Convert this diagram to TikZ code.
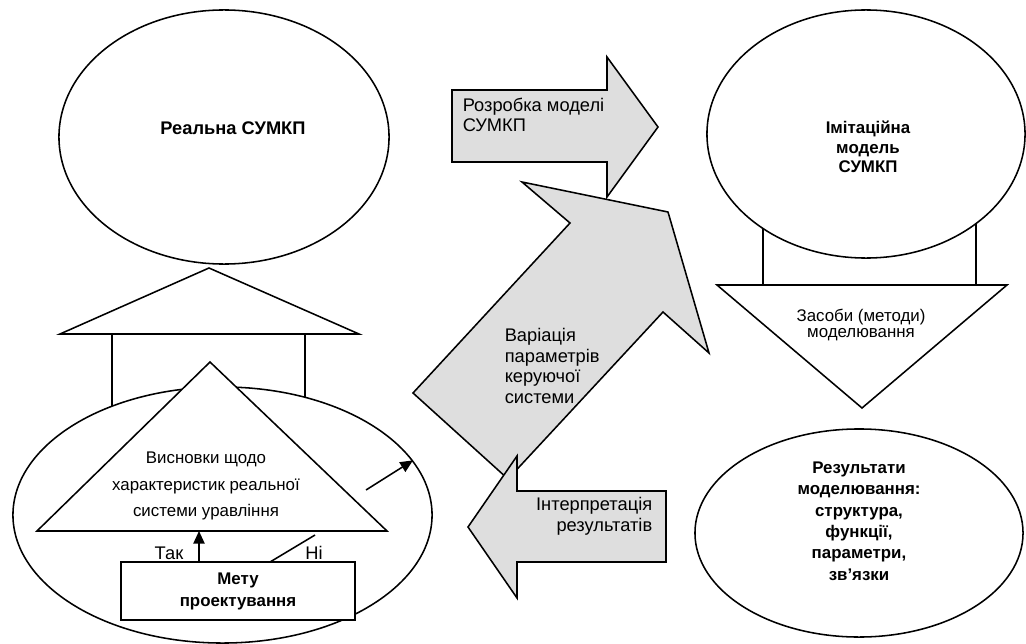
\documentclass[tikz,border=0pt]{standalone}
\usepackage{fontspec}
\setmainfont{Liberation Sans}
\usetikzlibrary{arrows.meta}
\usetikzlibrary{shapes.geometric}
\usepackage{xcolor}
\definecolor{arrowgrey}{gray}{0.87}

\begin{document}
\begin{tikzpicture}[x=0.025cm, y=-0.025cm, line width=1.1pt,
        txt/.style={font=\fontsize{12}{#1}\selectfont, inner sep=0pt},
        txt/.default=14,
        bigtxt/.style={font=\fontsize{13}{#1}\selectfont, inner sep=0pt},
        bigtxt/.default=14,
        heavy/.style={font=\fontsize{12}{#1}\selectfont\bfseries, inner sep=0pt},
        heavy/.default=14,
        oval/.style={draw, ellipse, fill=white, inner sep=0pt},
        blockarrow/.style={draw, fill=arrowgrey, line join=miter},
        >={Triangle[length=9pt,width=8pt]}]

        \useasboundingbox (0,0) rectangle (1026,644);

        % left side: real system
        \coordinate (RA) at (209,268);
        \coordinate (RB) at (60,334);
        \coordinate (RC) at (359,334);
        \coordinate (L1) at (112,334);
        \coordinate (L2) at (305,334);

        \draw (L1) -- (112,440);
        \draw (L2) -- (305,440);
        \draw (RB) -- (RA) -- (RC) -- cycle;

        \node[oval, minimum width=8.25cm, minimum height=6.35cm] (real) at (224,137) {};
        \node[heavy, font=\fontsize{13}{14}\selectfont\bfseries] (realtxt) at (233,128) {Реальна СУМКП};

        \node[oval, minimum width=10.475cm, minimum height=6.4cm] (lowell) at (222.5,515) {};

        \coordinate (TA) at (210,362);
        \coordinate (TB) at (37,531);
        \coordinate (TC) at (387,531);
        \draw[fill=white] (TA) -- (TB) -- (TC) -- cycle;
        \node[txt=18.8, align=center] (concl) at (206,486) {Висновки щодо\\характеристик реальної\\системи уравління};

        \node[heavy=15.6, align=center, draw, fill=white, minimum width=5.85cm, minimum height=1.45cm] (goal) at (238,591) {Мету\\проектування};

        \coordinate (yesend) at (199,531);
        \coordinate (noend) at (315,535);
        \draw[->] (yesend |- goal.north) -- (yesend);
        \draw (270,562) -- (noend);
        \node[bigtxt] (yes) at (169,553) {Так};
        \node[bigtxt] (no) at (314,553) {Ні};

        \coordinate (outstart) at (366,490);
        \draw[->] (outstart) -- (lowell.16);

        % middle: block arrows
        \draw[blockarrow] (452,90) -- (607,90) -- (607,57) -- (658,127) -- (607,197) -- (607,162) -- (452,162) -- cycle;
        \node[bigtxt=14.2, align=left, anchor=west] (develop) at (462,115) {Розробка моделі\\СУМКП};

        \draw[blockarrow] (413,393) -- (570,223) -- (522,182) -- (668,212) -- (709,353) -- (663,312) -- (508,479) -- cycle;
        \node[bigtxt=14.7, align=left, anchor=west] (vary) at (504,366) {Варіація\\параметрів\\керуючої\\системи};

        \draw[blockarrow] (666,491) -- (517,491) -- (517,456) -- (468,527) -- (517,598) -- (517,562) -- (666,562) -- cycle;
        \node[bigtxt=14.9, align=right, anchor=east] (interp) at (653,516) {Інтерпретація\\результатів};

        % right side: simulation model
        \coordinate (D1) at (763,285);
        \coordinate (D2) at (976,285);
        \draw (D1) -- (763,200);
        \draw (D2) -- (976,200);

        \node[oval, minimum width=7.95cm, minimum height=6.2cm] (imit) at (866,134) {};
        \node[heavy=13.8, align=center] (imittxt) at (868,147) {Імітаційна\\модель\\СУМКП};

        \draw (717,285) -- (1007,285) -- (862,408) -- cycle;
        \node[txt=11.3, align=center] (tools) at (861,325) {Засоби (методи)\\моделювання};

        \node[oval, minimum width=8.2cm, minimum height=5.2cm] (res) at (859,533) {};
        \node[heavy=15.2, align=center] (restxt) at (859,521) {Результати\\моделювання:\\структура,\\функції,\\параметри,\\зв’язки};

    \end{tikzpicture}
\end{document}
